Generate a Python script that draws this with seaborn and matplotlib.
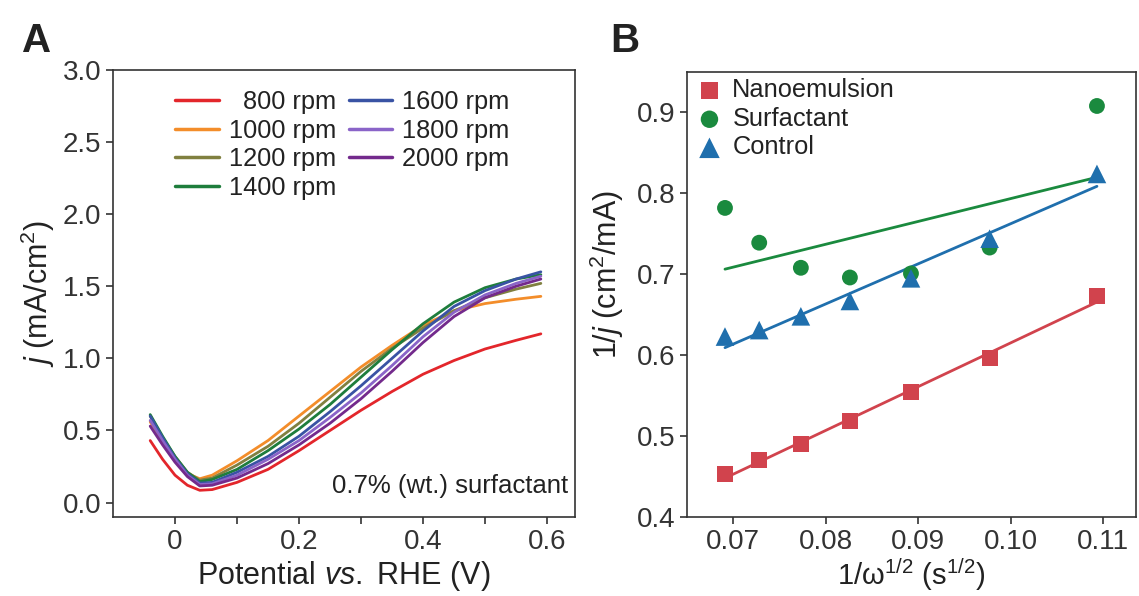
import matplotlib
matplotlib.use("Agg")
import matplotlib.pyplot as plt
import seaborn as sns
import pandas as pd
import numpy as np

# ---- panel A data: LSV curves ----
rpm = [800, 1000, 1200, 1400, 1600, 1800, 2000]
potential = [-0.04, -0.02, 0.0, 0.02, 0.04, 0.06, 0.10, 0.15, 0.20, 0.25,
             0.30, 0.35, 0.40, 0.45, 0.50, 0.55, 0.59]
j_800 = [0.43, 0.30, 0.19, 0.12, 0.085, 0.09, 0.14, 0.23, 0.36, 0.50,
         0.64, 0.77, 0.89, 0.985, 1.065, 1.125, 1.17]
j_1000 = [0.56, 0.42, 0.30, 0.20, 0.165, 0.19, 0.29, 0.43, 0.60, 0.77,
          0.94, 1.09, 1.23, 1.33, 1.38, 1.41, 1.43]
j_1200 = [0.60, 0.45, 0.32, 0.21, 0.155, 0.17, 0.26, 0.39, 0.55, 0.73,
          0.91, 1.07, 1.21, 1.33, 1.42, 1.48, 1.52]
j_1400 = [0.61, 0.46, 0.32, 0.21, 0.145, 0.16, 0.23, 0.36, 0.51, 0.68,
          0.87, 1.06, 1.24, 1.39, 1.49, 1.55, 1.58]
j_1600 = [0.60, 0.45, 0.31, 0.20, 0.135, 0.14, 0.21, 0.32, 0.46, 0.63,
          0.81, 1.00, 1.19, 1.36, 1.47, 1.55, 1.60]
j_1800 = [0.57, 0.43, 0.30, 0.19, 0.125, 0.13, 0.19, 0.30, 0.43, 0.59,
          0.76, 0.95, 1.15, 1.32, 1.44, 1.52, 1.57]
j_2000 = [0.53, 0.40, 0.28, 0.18, 0.115, 0.12, 0.17, 0.27, 0.40, 0.55,
          0.72, 0.91, 1.11, 1.29, 1.42, 1.50, 1.55]
curve_colors = ["#e3262b", "#f38d2a", "#808040", "#1e7d3c",
                "#3953a4", "#8a64c8", "#732a8c"]

# ---- panel B data: Koutecky-Levich ----
inv_sqrt_w = [0.0691, 0.0728, 0.0773, 0.0826, 0.0892, 0.0977, 0.1093]
inv_j_nano = [0.453, 0.470, 0.490, 0.519, 0.554, 0.596, 0.673]
inv_j_surf = [0.782, 0.739, 0.708, 0.696, 0.701, 0.733, 0.908]
inv_j_ctrl = [0.623, 0.631, 0.648, 0.667, 0.695, 0.744, 0.824]
kl_names = ["Nanoemulsion", "Surfactant", "Control"]
kl_colors = ["#d1434d", "#1a8a3e", "#1f6fad"]
kl_markers = ["s", "o", "^"]

sns.set_theme(style="ticks")
plt.rcParams['font.family'] = ['Liberation Sans', 'DejaVu Sans']
plt.rcParams['mathtext.fontset'] = 'custom'
plt.rcParams['mathtext.rm'] = 'Liberation Sans'
plt.rcParams['mathtext.it'] = 'Liberation Sans:italic'
plt.rcParams['text.color'] = '#222222'
plt.rcParams['axes.labelcolor'] = '#222222'
plt.rcParams['xtick.color'] = '#333333'
plt.rcParams['ytick.color'] = '#333333'

fig = plt.figure(figsize=(11.39, 5.96), dpi=100)
axA = fig.add_axes([0.0992, 0.1326, 0.4056, 0.75])
axB = fig.add_axes([0.6032, 0.1326, 0.394, 0.7466])

# ===== Panel A =====
curves = [j_800, j_1000, j_1200, j_1400, j_1600, j_1800, j_2000]
rows = []
for r, js in zip(rpm, curves):
    for v, jj in zip(potential, js):
        rows.append({"rpm": r, "E": v, "j": jj})
dfA = pd.DataFrame(rows)
sns.lineplot(data=dfA, x="E", y="j", hue="rpm", palette=curve_colors,
             sort=False, linewidth=2.0, ax=axA, legend=False)
handles = [plt.Line2D([], [], color=c, lw=2.5) for c in curve_colors]
labels = [("  " if r < 1000 else "") + f"{r} rpm" for r in rpm]
axA.legend(handles, labels, ncol=2, loc="upper left", bbox_to_anchor=(0.113, 0.978),
           frameon=False, fontsize=18.3, handlelength=1.7, handletextpad=0.4,
           columnspacing=0.5, labelspacing=0.18, borderaxespad=0)
axA.text(0.985, 0.042, "0.7% (wt.) surfactant", transform=axA.transAxes,
         ha="right", va="bottom", fontsize=18.5)
axA.set_xlim(-0.1, 0.645)
axA.set_ylim(-0.1, 3.0)
axA.set_xticks([0, 0.1, 0.2, 0.3, 0.4, 0.5, 0.6])
axA.set_xticklabels(["0", "", "0.2", "", "0.4", "", "0.6"])
axA.set_yticks([0, 0.5, 1.0, 1.5, 2.0, 2.5, 3.0])
axA.set_yticklabels(["0.0", "0.5", "1.0", "1.5", "2.0", "2.5", "3.0"])
axA.set_xlabel(r"Potential $\mathit{vs.}$ RHE (V)", fontsize=22, labelpad=3)
axA.set_ylabel(r"$\mathit{j}$ (mA/cm$^2$)", fontsize=22, labelpad=4)

# ===== Panel B =====
kl_series = [inv_j_nano, inv_j_surf, inv_j_ctrl]
for name, ys, c, m in zip(kl_names, kl_series, kl_colors, kl_markers):
    d = pd.DataFrame({"x": inv_sqrt_w, "y": ys})
    sns.regplot(data=d, x="x", y="y", scatter=False, ci=None, truncate=True,
                color=c, line_kws={"lw": 2.0}, ax=axB)
    sns.scatterplot(data=d, x="x", y="y", marker=m, color=c,
                    s=180 if m == "^" else 130, edgecolor="none",
                    label=name, ax=axB, zorder=3)
axB.legend(loc="upper left", bbox_to_anchor=(-0.018, 1.02), frameon=False,
           fontsize=18.3, handletextpad=0.3, labelspacing=0.18,
           borderaxespad=0.2, handlelength=1.2, markerscale=1.1)
axB.set_xlim(0.065, 0.1135)
axB.set_ylim(0.4, 0.95)
axB.set_xticks([0.07, 0.08, 0.09, 0.10, 0.11])
axB.set_xticklabels(["0.07", "0.08", "0.09", "0.10", "0.11"])
axB.set_yticks([0.4, 0.5, 0.6, 0.7, 0.8, 0.9])
axB.set_xlabel(r"1/ω$^{1/2}$ (s$^{1/2}$)", fontsize=21, labelpad=1)
axB.set_ylabel(r"$\mathit{1/j}$ (cm$^2$/mA)", fontsize=22)
axB.yaxis.set_label_coords(-0.135, 0.545)

for ax in (axA, axB):
    for sp in ax.spines.values():
        sp.set_visible(True)
        sp.set_linewidth(1.2)
        sp.set_color("#333333")
    ax.tick_params(direction="out", length=5, width=1.2, labelsize=20,
                   top=False, right=False)

fig.text(0.019, 0.913, "A", fontsize=29, fontweight="bold")
fig.text(0.536, 0.913, "B", fontsize=29, fontweight="bold")

fig.savefig("out.png", dpi=100)
